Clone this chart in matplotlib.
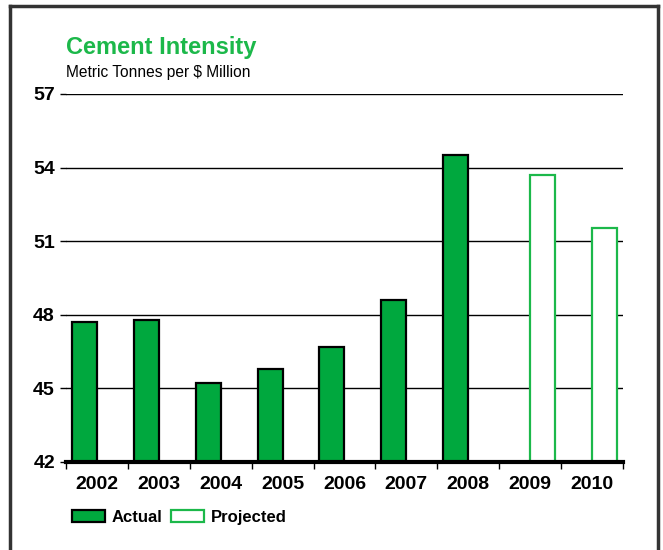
import matplotlib.pyplot as plt
import numpy as np
from matplotlib.patches import Patch
from matplotlib.lines import Line2D

years = ['2002', '2003', '2004', '2005', '2006', '2007', '2008', '2009', '2010']
actual = [47.7, 47.8, 45.2, 45.8, 46.7, 48.6, 54.5, np.nan, np.nan]
projected = [np.nan] * 7 + [53.7, 51.55]
yticks = [42, 45, 48, 51, 54, 57]

green = '#00a83e'
green_line = '#1cb84a'
plt.rcParams['font.family'] = ['Liberation Sans', 'DejaVu Sans']

fig = plt.figure(figsize=(6.63, 5.5), dpi=100)
ax = fig.add_axes([66 / 663, 88 / 550, 557 / 663, 368 / 550])

x = np.arange(len(years))
w = 0.405
base = 42
ax.bar(x - w / 2, np.array(actual) - base, w, bottom=base, color=green,
       edgecolor='black', linewidth=1.6, zorder=3)
ax.bar(x + w / 2, np.array(projected) - base, w, bottom=base, color='white',
       edgecolor=green_line, linewidth=1.6, zorder=3)

ax.set_xlim(-0.5, 8.5)
ax.set_ylim(42, 57)
ax.set_yticks(yticks)
ax.set_yticklabels([str(t) for t in yticks], fontsize=14, fontweight='bold')
for t in yticks[1:]:
    ax.axhline(t, color='black', lw=1.0, zorder=1)
ax.set_xticks(x)
ax.set_xticklabels(years, fontsize=14, fontweight='bold')
ax.set_xticks(np.arange(-0.5, 9, 1), minor=True)
ax.tick_params(axis='x', which='major', length=0, pad=10)
ax.tick_params(axis='x', which='minor', length=5, width=1, direction='out')
ax.tick_params(axis='y', length=4, width=1, pad=4)
for s in ['top', 'right', 'left']:
    ax.spines[s].set_visible(False)
ax.spines['bottom'].set_linewidth(3)
ax.spines['bottom'].set_zorder(4)

fig.text(66 / 663, 1 - 54 / 550, 'Cement Intensity', color=green_line,
         fontsize=17, fontweight='bold')
fig.text(66 / 663, 1 - 77 / 550, 'Metric Tonnes per $ Million', color='black',
         fontsize=11.2)

handles = [Patch(facecolor=green, edgecolor='black', linewidth=1.6, label='Actual'),
           Patch(facecolor='white', edgecolor=green_line, linewidth=1.6, label='Projected')]
fig.legend(handles=handles, loc='lower left', bbox_to_anchor=(57 / 663, 1 - 540 / 550),
           ncol=2, frameon=False, prop={'weight': 'bold', 'size': 12},
           handlelength=2.0, handleheight=0.7, handletextpad=0.4, columnspacing=0.5)

# outer frame
fig.add_artist(Line2D([10 / 663, 10 / 663], [0, 1 - 6 / 550], transform=fig.transFigure,
                      color='#333333', lw=2.5))
fig.add_artist(Line2D([10 / 663, 658 / 663], [1 - 6 / 550, 1 - 6 / 550],
                      transform=fig.transFigure, color='#333333', lw=2.5))
fig.add_artist(Line2D([658 / 663, 658 / 663], [0, 1 - 6 / 550], transform=fig.transFigure,
                      color='#333333', lw=2.5))

fig.savefig('out.png', dpi=100)
